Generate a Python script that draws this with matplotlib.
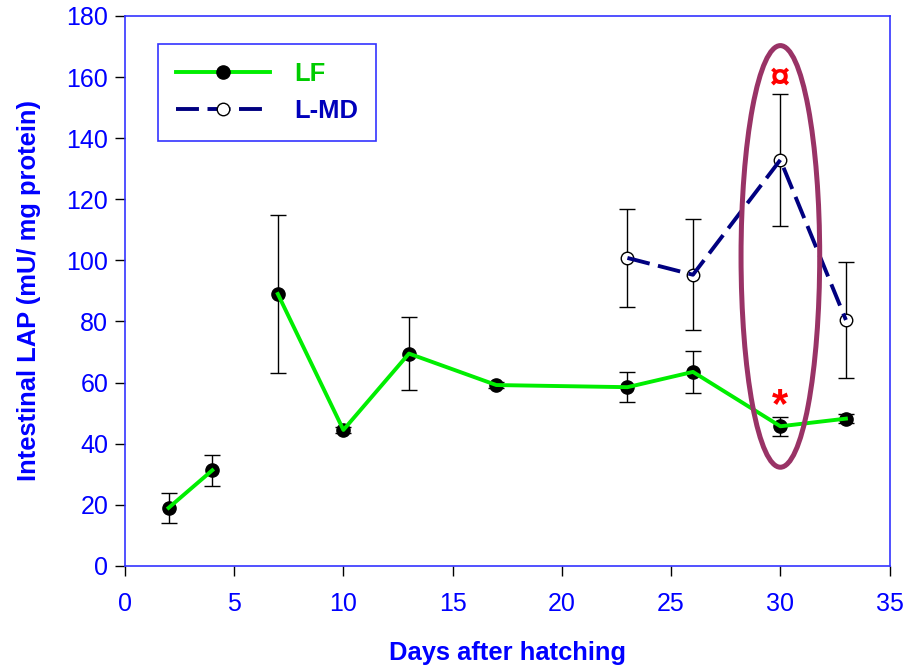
import matplotlib
matplotlib.use('Agg')
import matplotlib.pyplot as plt
from matplotlib.patches import Ellipse
from matplotlib.lines import Line2D

plt.rcParams['font.family'] = ['Liberation Sans', 'DejaVu Sans']

# LF series
lf_days = [2, 4, 7, 10, 13, 17, 23, 26, 30, 33]
lf_mean = [19, 31.3, 89, 44.5, 69.5, 59.2, 58.5, 63.5, 45.7, 48.2]
lf_err = [5, 5, 26, 1, 12, 1, 5, 7, 3.2, 1.5]

# L-MD series
md_days = [23, 26, 30, 33]
md_mean = [100.8, 95.3, 132.9, 80.5]
md_err = [16, 18.2, 21.6, 18.9]

blue = '#0000ff'
spine_blue = '#3333ff'
green = '#00ee00'
navy = '#000080'
dash = (0, (5.9, 2.2))

fig = plt.figure(figsize=(9.05, 6.65), dpi=100)
ax = fig.add_axes([0.138, 0.149, 0.845, 0.827])

# LF: first two points joined, then gap, then the rest
ax.errorbar(lf_days, lf_mean, yerr=lf_err, fmt='none', ecolor='black',
            elinewidth=1, capsize=6, capthick=1, zorder=2)
ax.plot(lf_days[:2], lf_mean[:2], color=green, lw=2.8, zorder=3)
ax.plot(lf_days[2:], lf_mean[2:], color=green, lw=2.8, zorder=3)
ax.plot(lf_days, lf_mean, 'o', color='black', markersize=9.5, zorder=2.5)

ax.errorbar(md_days, md_mean, yerr=md_err, fmt='none', ecolor='black',
            elinewidth=1, capsize=6, capthick=1, zorder=2)
ax.plot(md_days, md_mean, color=navy, lw=2.8, linestyle=dash, zorder=3)
ax.plot(md_days, md_mean, 'o', markerfacecolor='white', markeredgecolor='black',
        markeredgewidth=1, markersize=9, zorder=2.5)

# highlight ellipse around day 30
ax.add_patch(Ellipse((30, 101.3), 3.6, 138, fill=False, edgecolor='#993366',
                     lw=3.6, zorder=4))
ax.text(30, 159.5, '\u00a4', color='red', fontsize=26, fontweight='bold',
        ha='center', va='center', zorder=5)
ax.text(30, 52.3, '*', color='red', fontsize=30, fontweight='bold',
        ha='center', va='center', zorder=5)

ax.set_xlim(0, 35)
ax.set_ylim(0, 180)
ax.set_xticks(range(0, 36, 5))
ax.set_yticks(range(0, 181, 20))
for s in ax.spines.values():
    s.set_color(spine_blue)
    s.set_linewidth(1.2)
ax.tick_params(axis='both', direction='out', length=7, width=1, color='black',
               labelcolor=blue, labelsize=18)
ax.tick_params(axis='x', pad=12)
ax.tick_params(axis='y', pad=5)
ax.tick_params(right=False, top=False)

ax.set_xlabel('Days after hatching', color=blue, fontsize=18.4, fontweight='bold',
              labelpad=18)
ax.set_ylabel('Intestinal LAP (mU/ mg protein)', color=blue, fontsize=18.4,
              fontweight='bold', labelpad=18.5)

handles = [
    Line2D([], [], color=green, lw=2.8, marker='o', markersize=9.5,
           markerfacecolor='black', markeredgecolor='black'),
    Line2D([], [], color=navy, lw=2.8, linestyle=dash, marker='o',
           markersize=9, markerfacecolor='white', markeredgecolor='black'),
]
leg = ax.legend(handles, ['LF', 'L-MD'], loc='upper left',
                bbox_to_anchor=(0.043, 0.949), fancybox=False, framealpha=1,
                handlelength=3.7, handletextpad=0.95, borderpad=0.7,
                labelspacing=0.5, borderaxespad=0,
                prop={'size': 18.4, 'weight': 'bold'})
leg.get_frame().set_edgecolor(spine_blue)
leg.get_frame().set_linewidth(1.2)
leg.get_texts()[0].set_color('#00cc00')
leg.get_texts()[1].set_color('#0000bb')

fig.savefig('out.png', dpi=100)
